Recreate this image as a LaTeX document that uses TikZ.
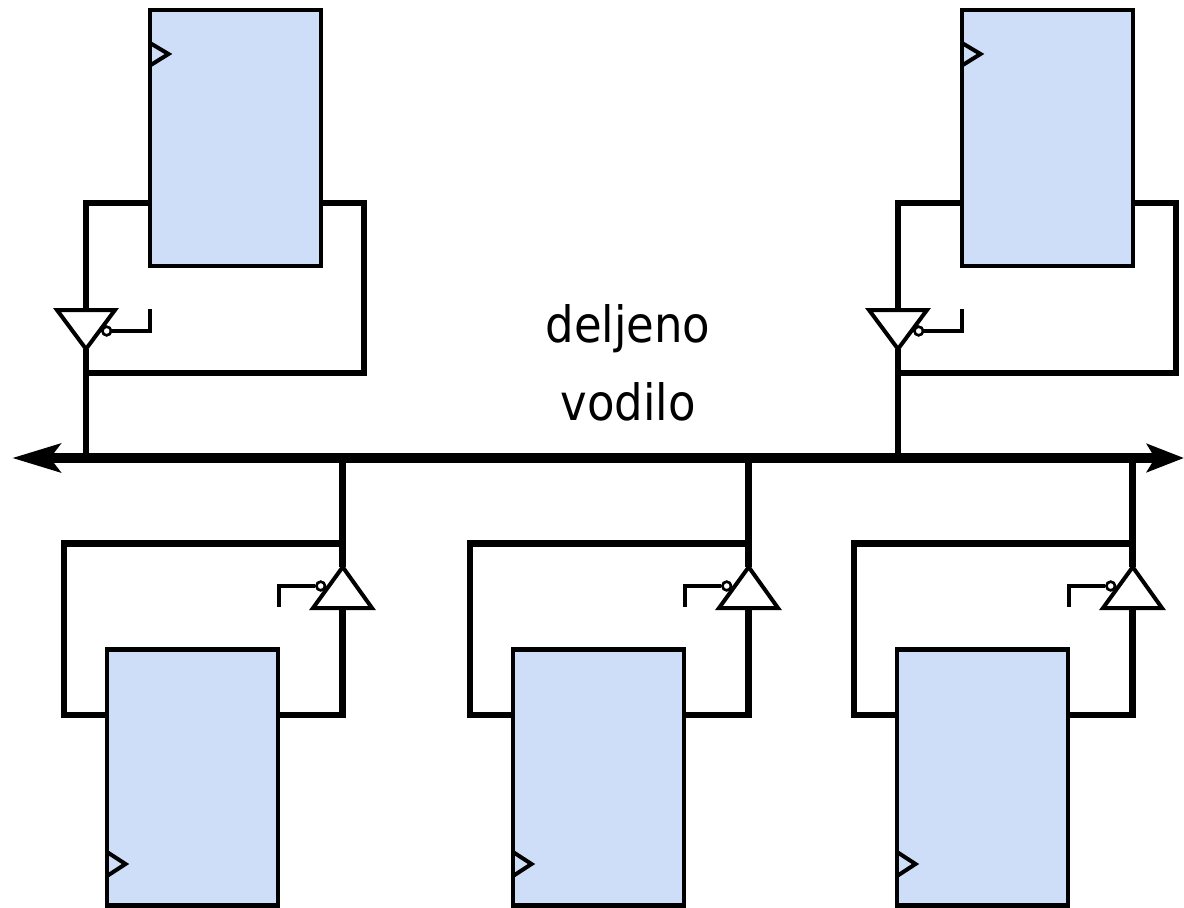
\documentclass[tikz,border=0pt]{standalone}
\usepackage{fontspec}
\setmainfont{DejaVu Sans}
\newfontfamily\lblfont[FakeStretch=0.9]{DejaVu Sans}
\usetikzlibrary{arrows.meta,calc}
\definecolor{modfill}{HTML}{CFDEF8}
\tikzset{
  x=1pt,y=-1pt,
  module/.style={draw=black,fill=modfill,line width=4.5pt,minimum width=171pt,minimum height=256pt,inner sep=0pt},
  wire/.style={line width=6.5pt,line join=miter},
  thinwire/.style={line width=3.5pt,line join=miter},
  buffer/.style={draw=black,fill=white,line width=4pt,line join=miter},
  clock/.style={draw=black,line width=4pt,line join=miter},
  bubble/.style={circle,draw=black,fill=white,line width=2.5pt,minimum size=8.5pt,inner sep=0pt},
  bus/.style={line width=10.5pt},
  label/.style={font=\lblfont\fontsize{50}{60}\selectfont,inner sep=0pt,text=black,anchor=base}
}
\begin{document}
\begin{tikzpicture}
\useasboundingbox (0,0) rectangle (1184,908);
% bus
\coordinate (busL) at (12,458);
\coordinate (busR) at (1184,458);
\draw[bus,{Stealth[length=48pt,width=28pt,inset=10pt]}-{Stealth[length=37pt,width=28pt,inset=8pt]}] (busL) -- (busR);
% top modules
\foreach \n/\d in {a/0,b/812}{
  \coordinate (\n tap) at ({86+\d},458);
  \coordinate (\n top) at ({86+\d},310);
  \coordinate (\n tip) at ({86+\d},349);
  \coordinate (\n bl) at ({57+\d},310);
  \coordinate (\n br) at ({115+\d},310);
  \coordinate (\n fb) at ({364+\d},373);
  \coordinate (\n join) at ({86+\d},373);
  \coordinate (\n cr) at ({150+\d},331);
  \coordinate (\n ce) at ({150+\d},309);
  \coordinate (\n ul) at ({86+\d},203);
  \coordinate (\n ur) at ({364+\d},203);
  \node[module] (\n m) at ({235.5+\d},138) {};
  \draw[wire] (\n m.west |- \n ul) -- (\n ul) -- (\n top);
  \draw[wire] (\n m.east |- \n ur) -- (\n ur) -- (\n fb) -- (\n join);
  \draw[wire] (\n tip) -- (\n tap);
  \node[module] at (\n m) {};
  \draw[buffer] (\n bl) -- (\n br) -- (\n tip) -- cycle;
  \node[bubble] (\n bu) at ({106.7+\d},331) {};
  \draw[thinwire] (\n bu) -- (\n cr) -- (\n ce);
  \node[bubble] at (\n bu) {};
  \draw[clock] ({150+\d},43) -- ({168.5+\d},54) -- ({150+\d},65.5);
}
% bottom modules
\foreach \n/\d in {c/0,d/406,e/790}{
  \coordinate (\n tap) at ({342.7+\d},458);
  \coordinate (\n tip) at ({342.7+\d},567);
  \coordinate (\n bot) at ({342.7+\d},608);
  \coordinate (\n bl) at ({313+\d},608);
  \coordinate (\n br) at ({372+\d},608);
  \coordinate (\n ll) at ({64+\d},715);
  \coordinate (\n ul) at ({64+\d},543.5);
  \coordinate (\n join) at ({342.7+\d},543.5);
  \coordinate (\n lr) at ({342.7+\d},715);
  \coordinate (\n cc) at ({279+\d},586);
  \coordinate (\n ce) at ({279+\d},607);
  \node[module] (\n m) at ({192.5+\d},777.5) {};
  \draw[wire] (\n tap) -- (\n tip);
  \draw[wire] (\n m.west |- \n ll) -- (\n ll) -- (\n ul) -- (\n join);
  \draw[wire] (\n m.east |- \n lr) -- (\n lr) -- (\n bot);
  \node[module] at (\n m) {};
  \draw[buffer] (\n bl) -- (\n br) -- (\n tip) -- cycle;
  \node[bubble] (\n bu) at ({320.7+\d},586) {};
  \draw[thinwire] (\n bu) -- (\n cc) -- (\n ce);
  \node[bubble] at (\n bu) {};
  \draw[clock] ({107+\d},852) -- ({125.5+\d},864) -- ({107+\d},876);
}
\node[label] (t1) at (628,342.7) {deljeno};
\node[label] (t2) at (628,420) {vodilo};
\end{tikzpicture}
\end{document}
